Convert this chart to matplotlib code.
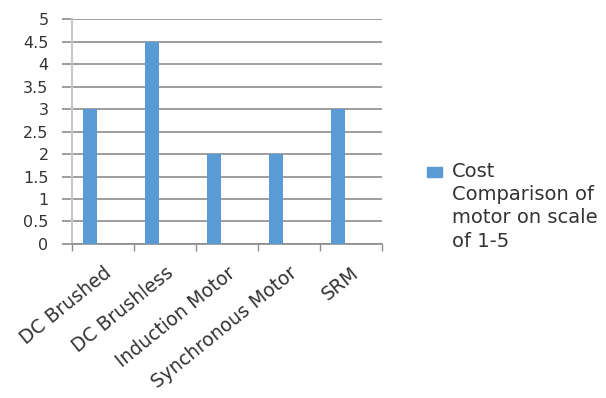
import matplotlib
matplotlib.use("Agg")
import matplotlib.pyplot as plt
import numpy as np

categories = ["DC Brushed", "DC Brushless", "Induction Motor", "Synchronous Motor", "SRM"]
values = [3, 4.5, 2, 2, 3]
yticks = [0, 0.5, 1, 1.5, 2, 2.5, 3, 3.5, 4, 4.5, 5]
ytick_labels = ["0", "0.5", "1", "1.5", "2", "2.5", "3", "3.5", "4", "4.5", "5"]
legend_label = "Cost\nComparison of\nmotor on scale\nof 1-5"

bar_color = "#5B9BD5"
text_color = "#333333"

fig = plt.figure(figsize=(6.06, 3.98), dpi=100)
ax = fig.add_axes([0.119, 0.387, 0.511, 0.565])

x = np.arange(len(categories))
ax.bar(x - 0.21, values, width=0.23, color=bar_color, zorder=3)

ax.set_xlim(-0.5, len(categories) - 0.5)
ax.set_ylim(0, 5)
ax.set_yticks(yticks)
ax.set_yticklabels(ytick_labels, fontsize=11.5, color=text_color)
ax.yaxis.grid(True, color="#8c8c8c", linewidth=1.2, zorder=0)
ax.tick_params(axis="y", length=7, width=1.2, color="#8c8c8c", pad=10)

ax.set_xticks(x)
ax.set_xticklabels(categories, rotation=39, ha="right", rotation_mode="anchor",
                   fontsize=13.5, color=text_color)
ax.set_xticks(np.arange(len(categories) + 1) - 0.5, minor=True)
ax.tick_params(axis="x", which="major", length=0, pad=14)
ax.tick_params(axis="x", which="minor", length=5, width=1, color="#8c8c8c")

for side in ["top", "right"]:
    ax.spines[side].set_visible(False)
ax.spines["left"].set_color("#c8c8c8")
ax.spines["left"].set_linewidth(1.5)
ax.spines["bottom"].set_color("#8c8c8c")
ax.spines["bottom"].set_linewidth(1.2)

# legend
fig.patches.append(matplotlib.patches.Rectangle((427 / 606, 1 - 177 / 398), 15 / 606, 10 / 398,
                                                transform=fig.transFigure, color=bar_color))
fig.text(452 / 606, 1 - 162 / 398, legend_label, fontsize=14, color=text_color,
         va="top", ha="left", linespacing=1.28)

fig.savefig("out.png", dpi=100)
